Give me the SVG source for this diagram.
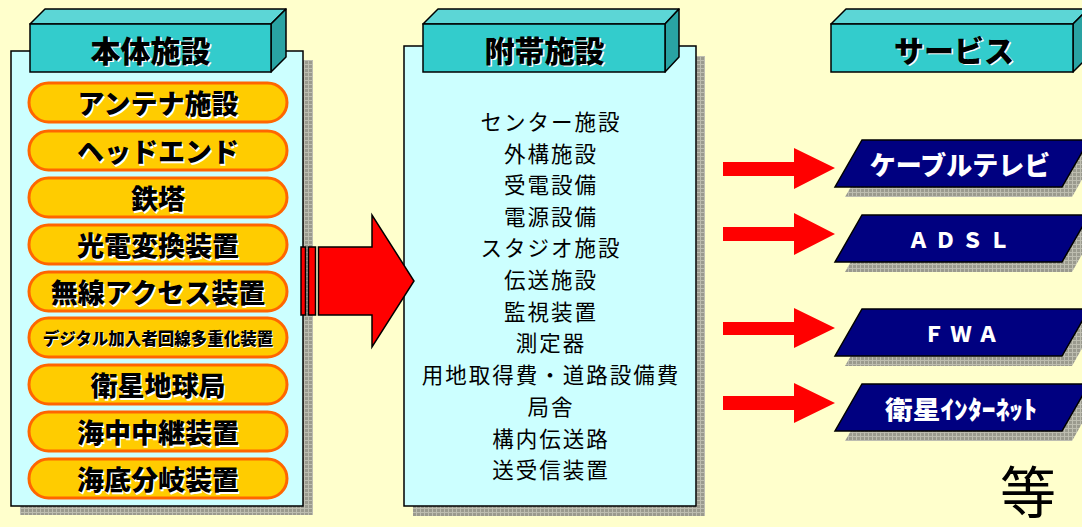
<svg xmlns="http://www.w3.org/2000/svg" width="1082" height="527" viewBox="0 0 1082 527">
<defs>
<pattern id="grid" width="4" height="4" patternUnits="userSpaceOnUse">
<rect width="4" height="4" fill="#9a9a8e"/>
<path d="M0 0.5H4M0.5 0V4" stroke="#bdbdb0" stroke-width="1"/>
</pattern>
<style>
.bg{fill:#FFFFCC}
.panel{fill:#CCFFFF;stroke:#000;stroke-width:1.5}
.shadow{fill:url(#grid)}
.top{fill:#5CD6D6;stroke:#000;stroke-width:1.5;stroke-linejoin:round}
.front{fill:#33CCCC;stroke:#000;stroke-width:1.5}
.side{fill:#29A3A3;stroke:#000;stroke-width:1.5;stroke-linejoin:round}
.pill{fill:#FFCC00;stroke:#FF6600;stroke-width:3}
.jp{font-family:"Noto Sans CJK JP","Noto Sans",sans-serif}
.hb{font-weight:900;text-anchor:middle;dominant-baseline:central}
.blk{fill:#000}
.wh{fill:#fff}
.mid{font-size:21.5px;letter-spacing:2px;text-anchor:middle;dominant-baseline:central;fill:#000}
.svc{fill:#000080;stroke:#000;stroke-width:1.5}
.red{fill:#FF0000}
.bigred{fill:#FF0000;stroke:#000;stroke-width:1.5}
</style>
</defs>
<rect class="bg" x="0" y="0" width="1082" height="527"/>

<g id="honntai">
<rect class="shadow" x="20" y="60" width="293" height="455"/>
<rect class="panel" x="11" y="51" width="292" height="455"/>
<polygon class="top" points="30,24 45,9 286,9 271,24"/>
<polygon class="side" points="271,24 286,9 286,57 271,72"/>
<rect class="front" x="30" y="24" width="241" height="48"/>
<text class="jp hb wh" x="152" y="50" font-size="30">本体施設</text>
<text class="jp hb blk" x="150.5" y="48.5" font-size="30">本体施設</text>
</g>

<g id="pills" class="jp">
<g id="p1"><rect class="pill" x="29" y="83" width="258" height="39" rx="19.5"/><text class="hb wh" x="159.5" y="104" font-size="27">アンテナ施設</text><text class="hb blk" x="158" y="102.5" font-size="27">アンテナ施設</text></g>
<g id="p2"><rect class="pill" x="29" y="131" width="258" height="39" rx="19.5"/><text class="hb wh" x="159.5" y="152" font-size="27">ヘッドエンド</text><text class="hb blk" x="158" y="150.5" font-size="27">ヘッドエンド</text></g>
<g id="p3"><rect class="pill" x="29" y="178" width="258" height="39" rx="19.5"/><text class="hb wh" x="159.5" y="199" font-size="27">鉄塔</text><text class="hb blk" x="158" y="197.5" font-size="27">鉄塔</text></g>
<g id="p4"><rect class="pill" x="29" y="225" width="258" height="39" rx="19.5"/><text class="hb wh" x="159.5" y="246" font-size="27">光電変換装置</text><text class="hb blk" x="158" y="244.5" font-size="27">光電変換装置</text></g>
<g id="p5"><rect class="pill" x="29" y="272" width="258" height="39" rx="19.5"/><text class="hb wh" x="159.5" y="293" font-size="27">無線アクセス装置</text><text class="hb blk" x="158" y="291.5" font-size="27">無線アクセス装置</text></g>
<g id="p6"><rect class="pill" x="29" y="318" width="258" height="39" rx="19.5"/><text class="hb wh" x="159" y="339" font-size="16.5">デジタル加入者回線多重化装置</text><text class="hb blk" x="158" y="338" font-size="16.5">デジタル加入者回線多重化装置</text></g>
<g id="p7"><rect class="pill" x="29" y="365" width="258" height="39" rx="19.5"/><text class="hb wh" x="159.5" y="386" font-size="27">衛星地球局</text><text class="hb blk" x="158" y="384.5" font-size="27">衛星地球局</text></g>
<g id="p8"><rect class="pill" x="29" y="412" width="258" height="39" rx="19.5"/><text class="hb wh" x="159.5" y="433" font-size="27">海中中継装置</text><text class="hb blk" x="158" y="431.5" font-size="27">海中中継装置</text></g>
<g id="p9"><rect class="pill" x="29" y="459" width="258" height="39" rx="19.5"/><text class="hb wh" x="159.5" y="480" font-size="27">海底分岐装置</text><text class="hb blk" x="158" y="478.5" font-size="27">海底分岐装置</text></g>
</g>

<g id="futai">
<rect class="shadow" x="413" y="56" width="292" height="460"/>
<rect class="panel" x="404" y="46" width="292" height="460"/>
<polygon class="top" points="423,24 438,9 679,9 665,24"/>
<polygon class="side" points="665,24 679,9 679,57 665,72"/>
<rect class="front" x="423" y="24" width="242" height="48"/>
<text class="jp hb wh" x="546" y="50" font-size="30">附帯施設</text>
<text class="jp hb blk" x="544.5" y="48.5" font-size="30">附帯施設</text>
<g class="jp">
<text class="mid" x="551" y="120">センター施設</text>
<text class="mid" x="551" y="152">外構施設</text>
<text class="mid" x="551" y="183">受電設備</text>
<text class="mid" x="551" y="215">電源設備</text>
<text class="mid" x="551" y="246">スタジオ施設</text>
<text class="mid" x="551" y="278">伝送施設</text>
<text class="mid" x="551" y="310">監視装置</text>
<text class="mid" x="551" y="341">測定器</text>
<text class="mid" x="551" y="373" letter-spacing="0.5">用地取得費・道路設備費</text>
<text class="mid" x="551" y="405">局舎</text>
<text class="mid" x="551" y="437">構内伝送路</text>
<text class="mid" x="551" y="468">送受信装置</text>
</g>
</g>

<g id="service-header">
<polygon class="top" points="831,24 846,9 1088,9 1073,24"/>
<polygon class="side" points="1073,24 1088,9 1088,57 1073,72"/>
<rect class="front" x="831" y="24" width="242" height="48"/>
<text class="jp hb wh" x="955.5" y="50" font-size="30">サービス</text>
<text class="jp hb blk" x="954" y="48.5" font-size="30">サービス</text>
</g>

<g id="svc1">
<polygon class="shadow" points="872,150 1099,150 1072,197 845,197"/>
<polygon class="svc" points="862,140 1089,140 1062,187 835,187"/>
<text class="jp hb wh" x="960" y="163.5" font-size="26">ケーブルテレビ</text>
</g>
<g id="svc2">
<polygon class="shadow" points="872,225 1099,225 1072,272 845,272"/>
<polygon class="svc" points="862,215 1089,215 1062,262 835,262"/>
<text class="jp hb wh" x="962" y="239" font-size="21" letter-spacing="6">ＡＤＳＬ</text>
</g>
<g id="svc3">
<polygon class="shadow" points="872,319 1099,319 1072,366 845,366"/>
<polygon class="svc" points="862,309 1089,309 1062,356 835,356"/>
<text class="jp hb wh" x="964" y="333" font-size="21" letter-spacing="6">ＦＷＡ</text>
</g>
<g id="svc4">
<polygon class="shadow" points="872,394 1099,394 1072,441 845,441"/>
<polygon class="svc" points="862,384 1089,384 1062,431 835,431"/>
<text class="jp hb wh" x="961" y="408" font-size="25" textLength="152" lengthAdjust="spacingAndGlyphs">衛星ｲﾝﾀｰﾈｯﾄ</text>
</g>

<g id="connectors">
<rect class="bigred" x="301" y="247" width="4.5" height="68"/>
<rect class="bigred" x="308.5" y="247" width="7" height="68"/>
<polygon class="bigred" points="318.5,247 372,247 372,215 414,281 372,347 372,315 318.5,315"/>
<polygon class="red" points="723,162 794,162 794,148 835,168 794,189 794,176 723,176"/>
<polygon class="red" points="723,227 794,227 794,213 835,234 794,255 794,241 723,241"/>
<polygon class="red" points="723,322 794,322 794,308 835,328 794,348 794,335 723,335"/>
<polygon class="red" points="723,396 794,396 794,383 835,403 794,423 794,410 723,410"/>
</g>

<text class="jp" x="1028" y="513" font-size="56" text-anchor="middle" fill="#000">等</text>
</svg>
